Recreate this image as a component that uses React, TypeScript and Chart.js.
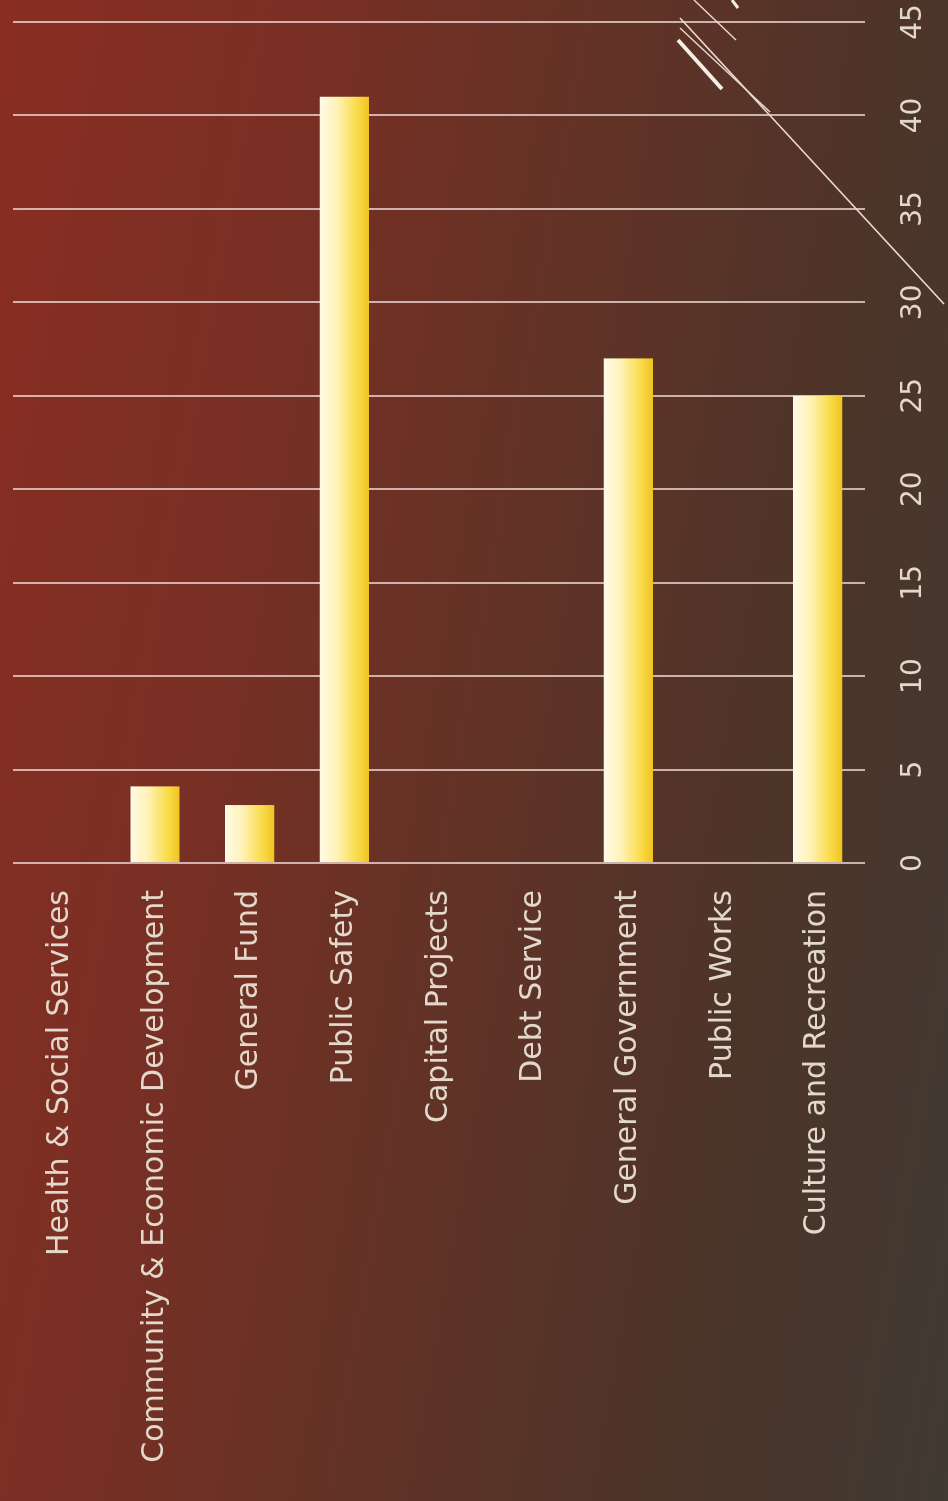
import React, { useEffect, useRef } from "react";
import { Chart, registerables } from "chart.js";

Chart.register(...registerables);

const categories = [
  "Health & Social Services",
  "Community & Economic Development",
  "General Fund",
  "Public Safety",
  "Capital Projects",
  "Debt Service",
  "General Government",
  "Public Works",
  "Culture and Recreation",
];

const values = [0, 4.1, 3.1, 41, 0, 0, 27, 0, 25];

const valueMin = 0;
const valueMax = 45;
const valueStep = 5;

const W = 1501;
const H = 948;

export default function App() {
  const ref = useRef<HTMLCanvasElement | null>(null);

  useEffect(() => {
    const canvas = ref.current;
    if (!canvas) return;
    const chart = new Chart(canvas, {
      type: "bar",
      data: {
        labels: categories,
        datasets: [
          {
            data: values,
            categoryPercentage: 1,
            barPercentage: 0.52,
            borderWidth: 0,
            backgroundColor: (ctx: any) => {
              const c = ctx.chart;
              const ys = c.scales && c.scales.y;
              if (!c.chartArea || !ys) return "#f6d63a";
              const center = ys.getPixelForValue(ctx.dataIndex);
              const half = 25;
              const g = c.ctx.createLinearGradient(0, center - half, 0, center + half);
              g.addColorStop(0, "#fffbe8");
              g.addColorStop(0.35, "#fff2b8");
              g.addColorStop(0.75, "#f9dc4a");
              g.addColorStop(1, "#f0c21e");
              return g;
            },
          },
        ],
      },
      options: {
        indexAxis: "y",
        responsive: false,
        animation: false,
        devicePixelRatio: 1,
        layout: { padding: { top: 13, right: 22, left: 0, bottom: 0 } },
        plugins: {
          legend: { display: false },
          tooltip: { enabled: false },
          title: { display: false },
        },
        scales: {
          x: {
            min: valueMin,
            max: valueMax,
            ticks: {
              stepSize: valueStep,
              color: "#e2d8cb",
              font: { family: "'DejaVu Sans', sans-serif", size: 28 },
              padding: 32,
              maxRotation: 0,
            },
            grid: {
              color: "rgba(225,200,195,0.85)",
              lineWidth: 2,
              drawTicks: false,
            },
            border: { display: false },
            afterFit: (scale: any) => {
              scale.height = 83;
              scale.paddingLeft = 0;
              scale.paddingRight = 0;
            },
          },
          y: {
            ticks: {
              color: "#e2d8cb",
              font: { family: "'DejaVu Sans', sans-serif", size: 30 },
              padding: 27,
              autoSkip: false,
            },
            grid: { display: false, drawTicks: false },
            border: { display: false },
            afterFit: (scale: any) => {
              scale.width = 638;
              scale.paddingTop = 0;
              scale.paddingBottom = 0;
            },
          },
        },
      },
    });
    return () => chart.destroy();
  }, []);

  return (
    <div
      style={{
        position: "absolute",
        left: 0,
        top: 0,
        width: 948,
        height: 1501,
        overflow: "hidden",
        background:
          "linear-gradient(100deg, #8a2d22 0%, #7a2f24 25%, #633226 50%, #4d3429 75%, #403a33 100%)",
      }}
    >
      <div
        style={{
          position: "absolute",
          left: 0,
          top: 0,
          width: W,
          height: H,
          transformOrigin: "0 0",
          transform: `translateY(${W}px) rotate(-90deg)`,
        }}
      >
        <canvas ref={ref} width={W} height={H} style={{ width: W, height: H, display: "block" }} />
      </div>
      <svg
        width={948}
        height={1501}
        style={{ position: "absolute", left: 0, top: 0, pointerEvents: "none" }}
      >
        <line x1={680} y1={18} x2={944} y2={304} stroke="#e8ddd0" strokeWidth={1.6} />
        <line x1={680} y1={28} x2={770} y2={112} stroke="#e8ddd0" strokeWidth={1.4} />
        <line x1={678} y1={40} x2={722} y2={89} stroke="#f4efe6" strokeWidth={4} />
        <line x1={694} y1={0} x2={736} y2={40} stroke="#e8ddd0" strokeWidth={1.4} />
        <line x1={732} y1={0} x2={738} y2={8} stroke="#f4efe6" strokeWidth={3} />
      </svg>
    </div>
  );
}
